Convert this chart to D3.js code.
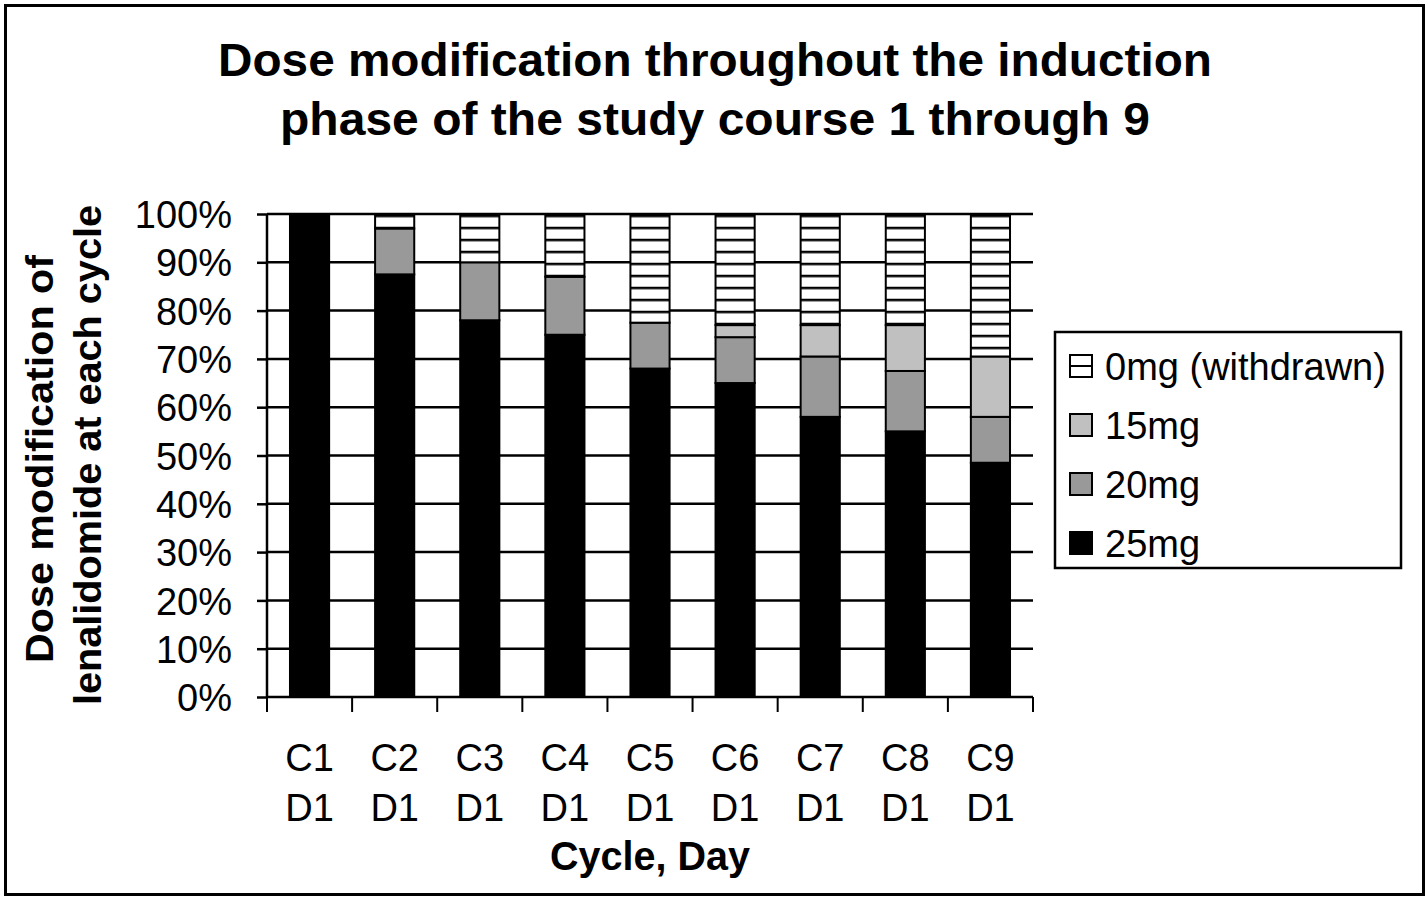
<!DOCTYPE html>
<html>
<head>
<meta charset="utf-8">
<script src="https://cdn.jsdelivr.net/npm/d3@7"></script>
<style>
  html, body { margin: 0; padding: 0; background: #fff; }
  svg { display: block; }
  text { font-family: "Liberation Sans", Arial, sans-serif; fill: #000; }
</style>
</head>
<body>
<svg id="chart" width="1426" height="898"></svg>
<script>
// ---- data ----
const cycles = ["C1", "C2", "C3", "C4", "C5", "C6", "C7", "C8", "C9"];
const days   = ["D1", "D1", "D1", "D1", "D1", "D1", "D1", "D1", "D1"];
const dose25 = [100, 87.5, 78, 75, 68, 65, 58, 55, 48.5];
const dose20 = [0, 9.5, 12, 12, 9.5, 9.5, 12.5, 12.5, 9.5];
const dose15 = [0, 0, 0, 0, 0, 2.5, 6.5, 9.5, 12.5];
const dose0  = [0, 3, 10, 13, 22.5, 23, 23, 23, 29.5];
const seriesKeys  = ["25mg", "20mg", "15mg", "0mg"];
const legendNames = ["0mg (withdrawn)", "15mg", "20mg", "25mg"];
const yTicks = [0, 10, 20, 30, 40, 50, 60, 70, 80, 90, 100];
const titleLines = ["Dose modification throughout the induction", "phase of the study course 1 through 9"];
const yTitleLines = ["Dose modification of", "lenalidomide at each cycle"];
const xTitle = "Cycle, Day";

const rows = cycles.map((c, i) => ({
  cat: c + " " + days[i],
  "25mg": dose25[i], "20mg": dose20[i], "15mg": dose15[i], "0mg": dose0[i]
}));

const svg = d3.select("#chart");
const W = 1426, H = 898;
const plot = { left: 267, right: 1033, top: 214, bottom: 697 };

// outer border
svg.append("rect").attr("x", 5.5).attr("y", 5.5).attr("width", W - 8).attr("height", H - 9)
  .attr("fill", "#fff").attr("stroke", "#000").attr("stroke-width", 3);

// pattern for withdrawn
const defs = svg.append("defs");
const pat = defs.append("pattern").attr("id", "stripes").attr("patternUnits", "userSpaceOnUse")
  .attr("x", 0).attr("y", 216 - 1.25).attr("width", 12).attr("height", 12);
pat.append("rect").attr("width", 12).attr("height", 12).attr("fill", "#fff");
pat.append("rect").attr("x", 0).attr("y", 0).attr("width", 12).attr("height", 2.5).attr("fill", "#000");

const fills = { "25mg": "#000000", "20mg": "#999999", "15mg": "#c0c0c0", "0mg": "url(#stripes)" };

const x = d3.scaleBand().domain(rows.map(d => d.cat)).range([plot.left, plot.right]);
const y = d3.scaleLinear().domain([0, 100]).range([plot.bottom, plot.top]);

// gridlines
svg.append("g").selectAll("line").data(yTicks.filter(t => t > 0)).join("line")
  .attr("x1", plot.left).attr("x2", plot.right)
  .attr("y1", d => y(d)).attr("y2", d => y(d))
  .attr("stroke", "#000").attr("stroke-width", 2.5);

// bars
const stack = d3.stack().keys(seriesKeys)(rows);
const barW = x.bandwidth() * 0.46;
const gBars = svg.append("g");
stack.forEach(layer => {
  gBars.append("g").selectAll("rect").data(layer.filter(d => d[1] - d[0] > 0)).join("rect")
    .attr("x", d => x(d.data.cat) + (x.bandwidth() - barW) / 2)
    .attr("width", barW)
    .attr("y", d => y(d[1]))
    .attr("height", d => y(d[0]) - y(d[1]))
    .attr("fill", fills[layer.key])
    .attr("stroke", "#000").attr("stroke-width", 2);
});

// y axis
const yAxis = d3.axisLeft(y).tickValues(yTicks).tickFormat(d => d + "%").tickSize(10).tickPadding(25);
const gy = svg.append("g").attr("transform", `translate(${plot.left},0)`).call(yAxis);
gy.select(".domain").attr("stroke", "#000").attr("stroke-width", 2.5).attr("d", `M-0,${plot.top}V${plot.bottom}`);
gy.selectAll(".tick line").attr("stroke", "#000").attr("stroke-width", 2.5);
gy.selectAll(".tick text").attr("font-size", 38).attr("font-family", "'Liberation Sans', Arial, sans-serif")
  .attr("fill", "#000").attr("dy", "0.36em");

// x axis
svg.append("line").attr("x1", plot.left).attr("x2", plot.right).attr("y1", plot.bottom).attr("y2", plot.bottom)
  .attr("stroke", "#000").attr("stroke-width", 2.5);
const boundaries = x.domain().map(c => x(c)).concat([plot.right]);
svg.append("g").selectAll("line").data(boundaries).join("line")
  .attr("x1", d => d).attr("x2", d => d).attr("y1", plot.bottom).attr("y2", plot.bottom + 15)
  .attr("stroke", "#000").attr("stroke-width", 2);
const gx = svg.append("g");
gx.selectAll("text.c").data(rows).join("text").attr("class", "c")
  .attr("x", d => x(d.cat) + x.bandwidth() / 2).attr("y", 771)
  .attr("text-anchor", "middle").attr("font-size", 38).text((d, i) => cycles[i]);
gx.selectAll("text.d").data(rows).join("text").attr("class", "d")
  .attr("x", d => x(d.cat) + x.bandwidth() / 2).attr("y", 821)
  .attr("text-anchor", "middle").attr("font-size", 38).text((d, i) => days[i]);

svg.append("text").attr("x", (plot.left + plot.right) / 2).attr("y", 870)
  .attr("text-anchor", "middle").attr("font-size", 40).attr("font-weight", "bold")
  .attr("textLength", 200).attr("lengthAdjust", "spacingAndGlyphs").text(xTitle);

// title
svg.append("text").attr("x", 715).attr("y", 76).attr("text-anchor", "middle")
  .attr("font-size", 46).attr("font-weight", "bold")
  .attr("textLength", 994).attr("lengthAdjust", "spacingAndGlyphs").text(titleLines[0]);
svg.append("text").attr("x", 715).attr("y", 135).attr("text-anchor", "middle")
  .attr("font-size", 46).attr("font-weight", "bold")
  .attr("textLength", 870).attr("lengthAdjust", "spacingAndGlyphs").text(titleLines[1]);

// y title
svg.append("text").attr("transform", "translate(53,459) rotate(-90)").attr("text-anchor", "middle")
  .attr("font-size", 39).attr("font-weight", "bold")
  .attr("textLength", 408).attr("lengthAdjust", "spacingAndGlyphs").text(yTitleLines[0]);
svg.append("text").attr("transform", "translate(101,455) rotate(-90)").attr("text-anchor", "middle")
  .attr("font-size", 39).attr("font-weight", "bold")
  .attr("textLength", 500).attr("lengthAdjust", "spacingAndGlyphs").text(yTitleLines[1]);

// legend
const lg = svg.append("g");
lg.append("rect").attr("x", 1055).attr("y", 332).attr("width", 346).attr("height", 236)
  .attr("fill", "#fff").attr("stroke", "#000").attr("stroke-width", 2.5);
const legendFill = { "0mg (withdrawn)": "#fff", "15mg": "#c0c0c0", "20mg": "#999999", "25mg": "#000" };
const items = lg.selectAll("g.item").data(legendNames).join("g").attr("class", "item")
  .attr("transform", (d, i) => `translate(1070,${366 + i * 59})`);
items.append("rect").attr("x", 0).attr("y", -11).attr("width", 22).attr("height", 22)
  .attr("fill", d => legendFill[d]).attr("stroke", "#000").attr("stroke-width", 2);
items.filter(d => d === "0mg (withdrawn)").append("line")
  .attr("x1", 0).attr("x2", 22).attr("y1", 0).attr("y2", 0).attr("stroke", "#000").attr("stroke-width", 2);
items.append("text").attr("x", 35).attr("y", 14).attr("font-size", 38).text(d => d);
</script>
</body>
</html>
